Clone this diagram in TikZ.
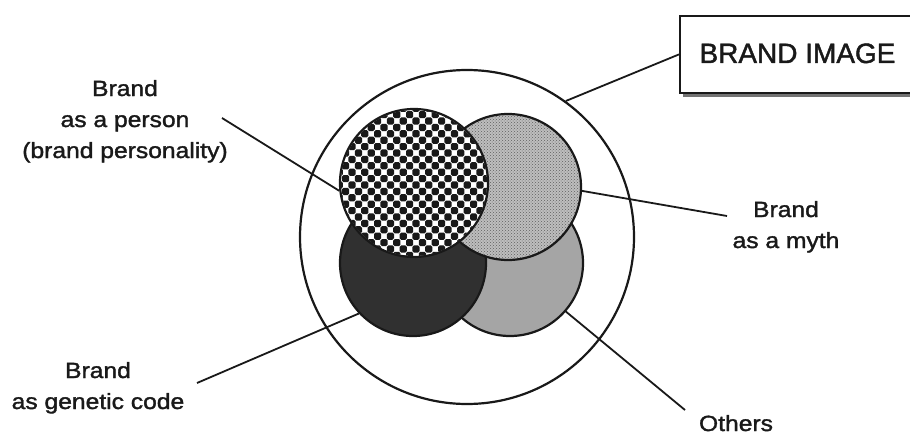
\documentclass[tikz,border=0pt]{standalone}
\usepackage{fontspec}
\setmainfont{Liberation Sans}
\newfontfamily\labfont[FakeStretch=1.12,FakeBold=1.5]{Liberation Sans}
\newfontfamily\titlefam[FakeBold=1.5]{Liberation Sans}
\usetikzlibrary{patterns}
\definecolor{ink}{RGB}{25,25,25}
\definecolor{trgray}{RGB}{190,190,190}
\definecolor{trdot}{RGB}{95,95,95}
\definecolor{brgray}{RGB}{165,165,165}
\definecolor{blgray}{RGB}{48,48,48}
\begin{document}
\begin{tikzpicture}[x=1pt,y=-1pt,
  outline/.style={circle, draw=ink, line width=2.2pt, inner sep=0pt},
  leader/.style={draw=ink, line width=1.8pt},
  lab/.style={font=\labfont\fontsize{22}{31}\selectfont, align=center, inner sep=0pt, text=ink},
  titlefont/.style={font=\titlefam\fontsize{28}{32}\selectfont, inner sep=0pt, text=ink}]
\useasboundingbox (0,0) rectangle (910,436);
\fill[white] (0,0) rectangle (910,436);
% outer circle
\node[outline, minimum size=334pt] (outer) at (467,237) {};
% bottom-right circle (others)
\node[outline, fill=brgray, minimum size=146pt] (br) at (510,263) {};
% bottom-left circle (genetic code)
\node[outline, fill=blgray, minimum size=146pt] (bl) at (413,263) {};
% top-right circle (myth)
\fill[trgray] (508,187) circle[radius=72pt];
\fill[pattern=crosshatch dots, pattern color=trdot] (508,187) circle[radius=72pt];
\node[outline, minimum size=146pt] (tr) at (508,187) {};
% top-left circle (person) checker
\fill[white] (414,183) circle[radius=73pt];
\begin{scope}
  \clip (414,183) circle[radius=73pt];
  \foreach \i in {0,...,24}{
    \foreach \j in {0,...,24}{
      \pgfmathtruncatemacro{\chk}{mod(\i+\j,2)}
      \ifnum\chk=0
        \fill[ink, rounded corners=1.6pt] (335.6+\i*6.4,104.6+\j*6.4) rectangle ++(7.2,7.2);
      \fi
    }
  }
\end{scope}
\node[outline, minimum size=148pt] (tl) at (414,183) {};
% brand image box
\node[draw=ink, line width=1.8pt, anchor=north west, minimum width=250pt, minimum height=77pt, inner sep=0pt] (box) at (679,15) {};
\draw[line width=2.4pt, black!55] (683,95.5) -- (912,95.5);
\node[titlefont, anchor=base] (title) at (797.5,63) {BRAND IMAGE};
% labels (base = baseline of last line)
\node[lab, anchor=base] (person) at (125,158) {Brand\\as a person\\(brand personality)};
\node[lab, anchor=base] (myth) at (786,248) {Brand\\as a myth};
\node[lab, anchor=base] (genetic) at (98,409) {Brand\\as genetic code};
\node[lab, anchor=base] (others) at (736,431) {Others};
% connector free ends
\coordinate (cperson) at (222,118);
\coordinate (cmyth) at (727,216);
\coordinate (cgen) at (197,383);
\coordinate (coth) at (685,410);
% connectors
\draw[leader] (box.west) -- (outer.54);
\draw[leader] (cperson) -- (tl.186);
\draw[leader] (cmyth) -- (tr.-3);
\draw[leader] (cgen) -- (bl.223);
\draw[leader] (coth) -- (br.-41);
\end{tikzpicture}
\end{document}
